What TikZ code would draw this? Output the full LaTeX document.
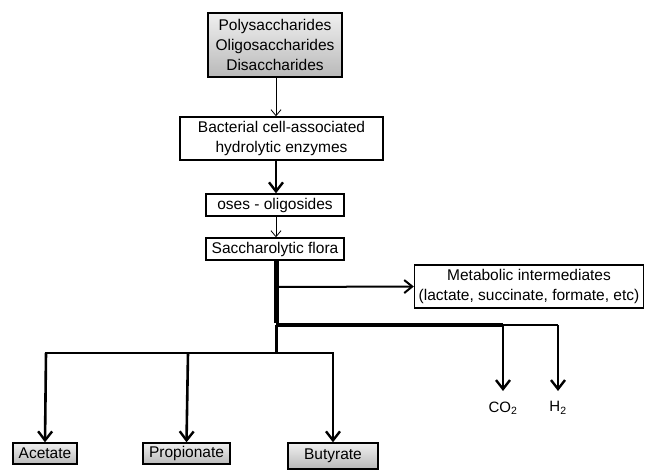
\documentclass[tikz,border=0pt]{standalone}
\usepackage{fontspec}
\setmainfont{Liberation Sans}
\usetikzlibrary{arrows.meta}
\begin{document}
\begin{tikzpicture}[x=1pt,y=-1pt,
  box/.style={draw=black,line width=1.4pt,inner sep=0pt,align=center,
    font=\fontsize{15.5}{20}\selectfont},
  gbox/.style={box,top color=gray!12,bottom color=gray!55},
  thin/.style={line width=0.7pt,-{Straight Barb[length=6pt,width=10pt,line width=0.8pt]}},
  thick/.style={line width=2.6pt,-{Straight Barb[length=9pt,width=14pt,line width=2.4pt]}},
  lbl/.style={inner sep=0pt,font=\fontsize{15}{17}\selectfont}]
\useasboundingbox (0,0) rectangle (645,469);
\node[gbox,minimum width=134pt,minimum height=64pt] (poly) at (275,45)
  {Polysaccharides\\Oligosaccharides\\Disaccharides};
\node[box,minimum width=203pt,minimum height=43pt] (enz) at (281.5,138.5)
  {Bacterial cell-associated\\hydrolytic enzymes};
\node[box,minimum width=138pt,minimum height=22pt] (oses) at (275,205)
  {oses - oligosides};
\node[box,minimum width=138pt,minimum height=22pt] (flora) at (275,249)
  {Saccharolytic flora};
\node[box,minimum width=229pt,minimum height=43pt] (meta) at (529,286.5)
  {Metabolic intermediates\\(lactate, succinate, formate, etc)};
\node[gbox,minimum width=64pt,minimum height=21pt] (acet) at (45,453.5) {Acetate};
\node[gbox,minimum width=87pt,minimum height=21pt] (prop) at (186.5,453.5) {Propionate};
\node[gbox,minimum width=90pt,minimum height=26pt] (but) at (333,456) {Butyrate};
\node[lbl] (co2) at (503,408) {CO\textsubscript{2}};
\node[lbl] (h2) at (558,408) {H\textsubscript{2}};

\coordinate (tA) at (276,287);
\coordinate (tB) at (276,325);
\coordinate (tC) at (276,353);
\coordinate (jco) at (503,325);
\coordinate (jh) at (558,325);
\coordinate (ja) at (46,353);
\coordinate (jp) at (188,353);
\coordinate (jb) at (333,353);
\coordinate (eco) at (503,391);
\coordinate (eh) at (558,391);

\draw[thin] (poly.south -| 276,0) -- (enz.north -| 276,0);
\draw[thick] (enz.south -| 276,0) -- (oses.north -| 276,0);
\draw[thin] (oses.south -| 276,0) -- (flora.north -| 276,0);
\draw[line width=5pt] (flora.south -| 276,0) -- ([yshift=2pt]tB);
\draw[line width=3pt] (tB) -- (tC);
\draw[line width=2pt,-{Straight Barb[length=8pt,width=13pt,line width=2pt]}] (tA) -- (meta.west);
\draw[line width=4pt] (tB) -- (jco);
\draw[line width=2.5pt] (jco) -- (jh);
\draw[thick] (jco) -- (eco);
\draw[thick] (jh) -- (eh);
\draw[line width=2.6pt,line cap=rect] (ja) -- (jb);
\draw[thick] (ja) -- (acet.north);
\draw[thick] (jp) -- (prop.north);
\draw[thick] (jb) -- (but.north);
\end{tikzpicture}
\end{document}
